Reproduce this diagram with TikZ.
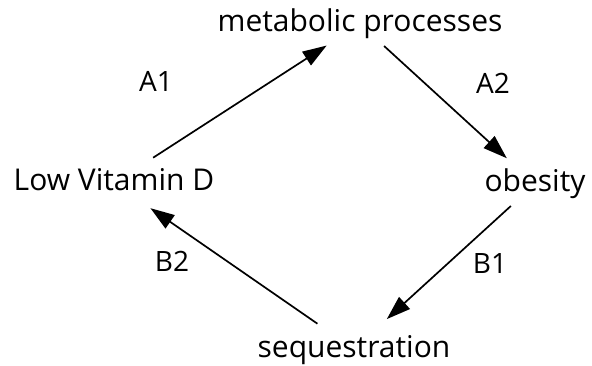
\documentclass[tikz,border=0pt]{standalone}
\usepackage{fontspec}
\setmainfont{Open Sans}
\usetikzlibrary{arrows.meta}
\tikzset{
  term/.style={inner sep=0pt, text height=22pt, text depth=6pt, font=\fontsize{30}{36}\selectfont},
  lab/.style={inner sep=0pt, anchor=base, font=\fontsize{28}{34}\selectfont},
  arr/.style={line width=1.7pt, -{Triangle[length=24pt,width=16pt]}}
}
\begin{document}
\begin{tikzpicture}[x=1pt,y=-1pt]
\useasboundingbox (0,0) rectangle (592,366);
\node[term] (mp)  at (360,24)  {metabolic processes};
\node[term] (lvd) at (114,183) {Low Vitamin D};
\node[term] (ob)  at (535,184) {obesity};
\node[term] (seq) at (354,349) {sequestration};
\node[lab] (a1) at (156,92)  {A1};
\node[lab] (a2) at (493,94)  {A2};
\node[lab] (b2) at (172,272) {B2};
\node[lab] (b1) at (490,274) {B1};
\draw[arr, shorten <=46.6pt, shorten >=39.7pt] (lvd.center) -- (mp.center);
\draw[arr, shorten <=32.7pt, shorten >=38.2pt] (mp.center) -- (ob.center);
\draw[arr, shorten <=32.7pt, shorten >=44.4pt] (ob.center) -- (seq.center);
\draw[arr, shorten <=44.5pt, shorten >=44.3pt] (seq.center) -- (lvd.center);
\end{tikzpicture}
\end{document}
